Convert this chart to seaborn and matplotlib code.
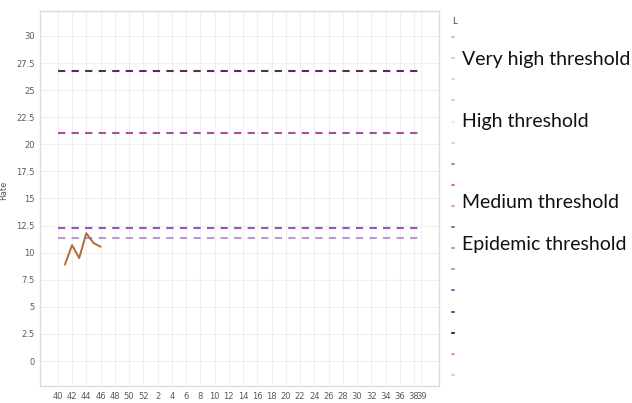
import pandas as pd
import seaborn as sns
import matplotlib.pyplot as plt
from matplotlib.lines import Line2D

# season weeks: 40..52 then 1..39
weeks = [str(w) for w in list(range(40, 53)) + list(range(1, 40))]

# observed rate, only the first weeks of the season
rate_weeks = ["41", "42", "43", "44", "45", "46"]
rate_values = [8.9, 10.7, 9.5, 11.8, 10.9, 10.55]

threshold_names = ["Very high threshold", "High threshold", "Medium threshold", "Epidemic threshold"]
threshold_values = [26.75, 21.0, 12.25, 11.35]
threshold_colors = ["#5b2a5d", "#a64fa6", "#9a55b8", "#b59cd8"]

legend_colors = [
    "#9fe09f", "#d4d4dc", "#eacbe2", "#f7c9a2", "#f7efb0", "#cbdada",
    "#9292d2", "#e272a6", "#f0a2a2", "#b37346", "#a5a5a5", "#b294d4",
    "#9462c4", "#93329f", "#4f2150", "#f29494", "#a6f0a6",
]

sns.set_theme(style="whitegrid")
plt.rcParams["font.family"] = ["DejaVu Sans"]

fig = plt.figure(figsize=(6.32, 4.03), dpi=100)
ax = fig.add_axes([40 / 632, 17 / 403, 399 / 632, 375 / 403])

for name, val, col in zip(threshold_names, threshold_values, threshold_colors):
    df = pd.DataFrame({"week": weeks, "value": [val] * len(weeks)})
    sns.lineplot(data=df, x="week", y="value", sort=False, ax=ax, color=col,
                 linewidth=1.5, dashes=False)
    ax.lines[-1].set_dashes((3.5, 3))

rate = pd.DataFrame({"week": rate_weeks, "value": rate_values})
sns.lineplot(data=rate, x="week", y="value", sort=False, ax=ax, color="#b5693a", linewidth=1.4)

tick_idx = list(range(0, 51, 2)) + [51]
ax.set_xticks(tick_idx)
ax.set_xticklabels([weeks[i] for i in tick_idx])
ax.set_xlim(-2.5, 53.5)
ax.set_ylim(-2.3, 32.3)
ax.set_yticks([0, 2.5, 5, 7.5, 10, 12.5, 15, 17.5, 20, 22.5, 25, 27.5, 30])
ax.set_yticklabels(["0", "2.5", "5", "7.5", "10", "12.5", "15", "17.5", "20", "22.5", "25", "27.5", "30"])
ax.set_xlabel("")
ax.set_ylabel("")
ax.tick_params(axis="both", length=0, labelsize=6, colors="#5a5a5a", pad=4)
ax.grid(True, color="#efefef", linewidth=0.8)
for s in ax.spines.values():
    s.set_color("#dcdcdc")
    s.set_linewidth(1)

fig.text(0.006, 1 - 190 / 403, "Rate", rotation=90, fontsize=6, color="#555555", ha="center", va="center")
fig.text(452 / 632, 1 - 22 / 403, "L", fontsize=6, color="#333333", ha="left", va="center")

handles = [Line2D([0], [0], color=c, linewidth=1.5) for c in legend_colors]
fig.legend(handles, [""] * len(handles), loc="upper left",
           bbox_to_anchor=(452 / 632, 1 - 33 / 403), frameon=False,
           fontsize=8, handlelength=0.2, handleheight=0.7, labelspacing=1.0,
           borderpad=0, borderaxespad=0)

label_y = [59, 122, 203, 245]
for name, y in zip(threshold_names, label_y):
    fig.text(462 / 632, 1 - y / 403, name, fontsize=14, family="Lato", color="#111111",
             ha="left", va="center")

fig.savefig("out.png", dpi=100)
